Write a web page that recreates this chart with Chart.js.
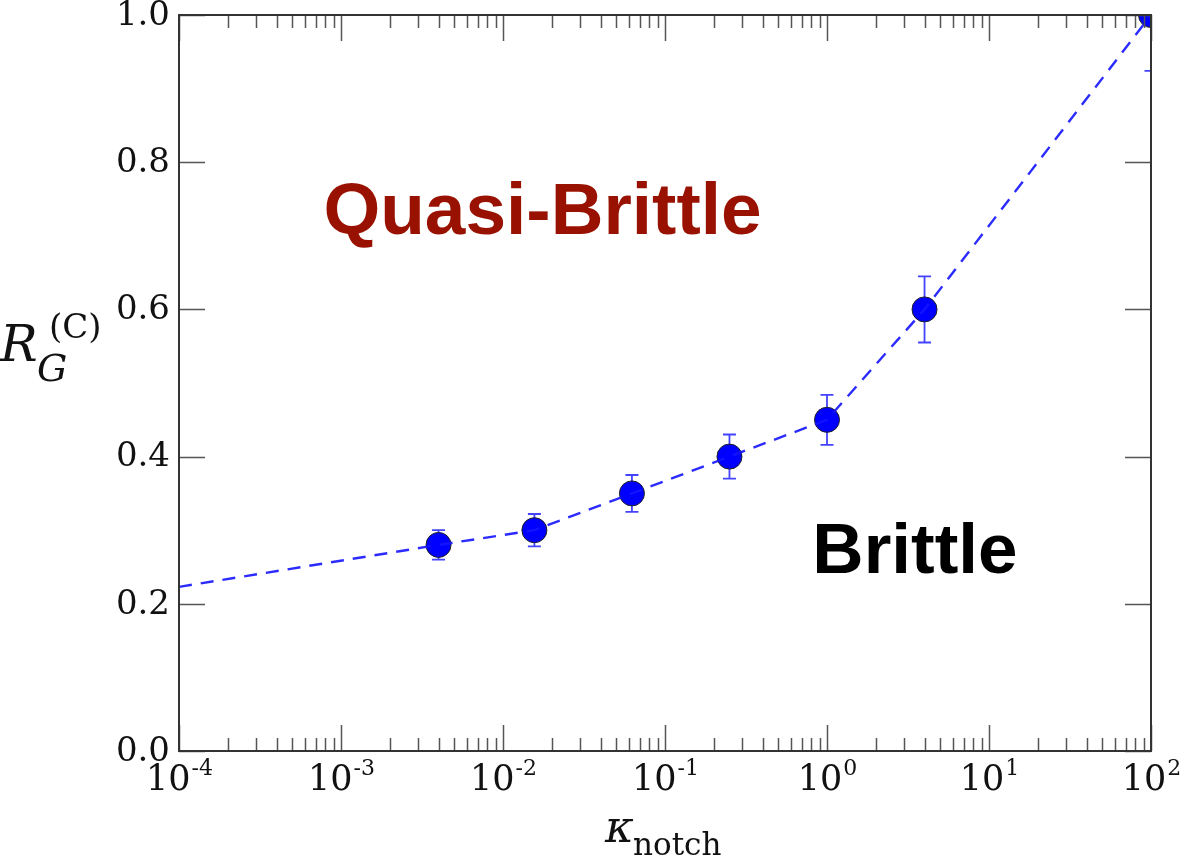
<!DOCTYPE html>
<html lang="en">

<head>
    <meta charset="UTF-8" />
    <title>R_G vs kappa_notch</title>
    <script src="https://cdn.jsdelivr.net/npm/chart.js"></script>
    <style>
        body {
            margin: 0;
            background: #fff;
        }

        #wrap {
            width: 1182px;
            height: 860px;
        }
    </style>
</head>

<body>
    <div id="wrap"><canvas id="rgChart"></canvas></div>

    <script>
        // measured points
        const kappa = [0.004, 0.015625, 0.0625, 0.25, 1, 4, 100];
        const rg = [0.28, 0.30, 0.35, 0.40, 0.45, 0.60, 1.0];
        const rgErr = [0.02, 0.022, 0.025, 0.03, 0.034, 0.045, 0.076];

        // dashed guide line
        const fitKappa = [0.0001, 0.004, 0.015625, 0.0625, 0.25, 1, 4, 100];
        const fitRg = [0.223, 0.28, 0.30, 0.35, 0.40, 0.45, 0.60, 1.0];

        // tick labels
        const yTicks = [0, 0.2, 0.4, 0.6, 0.8, 1.0];
        const yTickLabels = ["0.0", "0.2", "0.4", "0.6", "0.8", "1.0"];
        const xExponents = [-4, -3, -2, -1, 0, 1, 2];

        const SERIF = "'DejaVu Serif', serif";
        const SANS = "'Liberation Sans', Arial, sans-serif";

        // error bars, frame, inward ticks, labels and region names
        const decorations = {
            id: "decorations",
            beforeDatasetsDraw(chart) {
                const { ctx, chartArea: a } = chart;
                const x = chart.scales.x, y = chart.scales.y;
                ctx.save();
                ctx.beginPath();
                ctx.rect(a.left, a.top, a.right - a.left, a.bottom - a.top);
                ctx.clip();
                ctx.strokeStyle = "rgba(20,20,255,0.8)";
                ctx.lineWidth = 1.8;
                kappa.forEach((k, i) => {
                    const px = x.getPixelForValue(k);
                    const top = y.getPixelForValue(rg[i] + rgErr[i]);
                    const bot = y.getPixelForValue(rg[i] - rgErr[i]);
                    ctx.beginPath();
                    ctx.moveTo(px, top); ctx.lineTo(px, bot);
                    ctx.moveTo(px - 6.5, top); ctx.lineTo(px + 6.5, top);
                    ctx.moveTo(px - 6.5, bot); ctx.lineTo(px + 6.5, bot);
                    ctx.stroke();
                });
                ctx.restore();
            },
            afterDraw(chart) {
                const { ctx, chartArea: a } = chart;
                const x = chart.scales.x, y = chart.scales.y;
                ctx.save();

                // ticks
                ctx.strokeStyle = "#555";
                ctx.lineWidth = 1.5;
                ctx.beginPath();
                const lo = Math.round(Math.log10(x.min)), hi = Math.round(Math.log10(x.max));
                for (let e = lo; e <= hi; e++) {
                    for (let m = 1; m <= 9; m++) {
                        const v = m * Math.pow(10, e);
                        if (v > x.max * 1.0001) break;
                        const px = Math.round(x.getPixelForValue(v)) + 0.5;
                        const len = m === 1 ? 26 : 13;
                        ctx.moveTo(px, a.bottom); ctx.lineTo(px, a.bottom - len);
                        ctx.moveTo(px, a.top); ctx.lineTo(px, a.top + len);
                    }
                }
                yTicks.forEach(v => {
                    const py = Math.round(y.getPixelForValue(v)) + 0.5;
                    ctx.moveTo(a.left, py); ctx.lineTo(a.left + 26, py);
                    ctx.moveTo(a.right, py); ctx.lineTo(a.right - 26, py);
                });
                ctx.stroke();

                // frame
                ctx.strokeStyle = "#333";
                ctx.lineWidth = 2;
                ctx.strokeRect(a.left, a.top, a.right - a.left, a.bottom - a.top);

                // y tick labels
                ctx.fillStyle = "#111";
                ctx.font = "34px " + SERIF;
                ctx.textAlign = "right";
                ctx.textBaseline = "middle";
                yTicks.forEach((v, i) => {
                    ctx.fillText(yTickLabels[i], a.left - 9, y.getPixelForValue(v) + 1);
                });

                // x tick labels 10^n
                ctx.textAlign = "left";
                ctx.textBaseline = "alphabetic";
                xExponents.forEach(e => {
                    const px = x.getPixelForValue(Math.pow(10, e));
                    ctx.font = "35px " + SERIF;
                    const wb = ctx.measureText("10").width;
                    ctx.font = "22px " + SERIF;
                    const sup = String(e);
                    const ws = ctx.measureText(sup).width;
                    const left = px - (wb + ws) / 2;
                    ctx.font = "35px " + SERIF;
                    ctx.fillText("10", left, a.bottom + 39);
                    ctx.font = "22px " + SERIF;
                    ctx.fillText(sup, left + wb + 1, a.bottom + 24);
                });

                // y axis title  R_G^(C)
                ctx.font = "italic 50px " + SERIF;
                ctx.fillText("R", 0, 361);
                ctx.font = "italic 38px " + SERIF;
                ctx.fillText("G", 37, 381);
                ctx.font = "34px " + SERIF;
                ctx.fillText("(C)", 49, 338);

                // x axis title  kappa_notch
                ctx.font = "italic 44px " + SERIF;
                ctx.fillText("\u03BA", 605, 842);
                ctx.font = "31px " + SERIF;
                ctx.fillText("notch", 633, 855);

                // region names
                ctx.textAlign = "center";
                ctx.font = "bold 73px " + SANS;
                ctx.fillStyle = "#991100";
                ctx.fillText("Quasi-Brittle", x.getPixelForValue(0.01754), y.getPixelForValue(0.7024));
                ctx.font = "bold 71px " + SANS;
                ctx.fillStyle = "#000";
                ctx.fillText("Brittle", x.getPixelForValue(3.49), y.getPixelForValue(0.2418));

                ctx.restore();
            }
        };

        new Chart(document.getElementById("rgChart"), {
            type: "scatter",
            data: {
                datasets: [
                    {
                        label: "fit",
                        data: fitKappa.map((k, i) => ({ x: k, y: fitRg[i] })),
                        showLine: true,
                        borderColor: "rgba(20,20,255,0.9)",
                        borderWidth: 2.4,
                        borderDash: [13, 9],
                        pointRadius: 0,
                        fill: false,
                        clip: 0
                    },
                    {
                        label: "R_G",
                        data: kappa.map((k, i) => ({ x: k, y: rg[i] })),
                        showLine: false,
                        pointRadius: 12.5,
                        pointHoverRadius: 12.5,
                        backgroundColor: "#0000ff",
                        borderColor: "#222",
                        borderWidth: 1,
                        clip: 0
                    }
                ]
            },
            options: {
                responsive: true,
                maintainAspectRatio: false,
                animation: false,
                layout: { padding: { left: 179, right: 31, top: 15, bottom: 109 } },
                plugins: {
                    legend: { display: false },
                    tooltip: { enabled: false }
                },
                scales: {
                    x: { type: "logarithmic", min: 0.0001, max: 100, display: false },
                    y: { type: "linear", min: 0, max: 1, display: false }
                }
            },
            plugins: [decorations]
        });
    </script>
</body>

</html>
